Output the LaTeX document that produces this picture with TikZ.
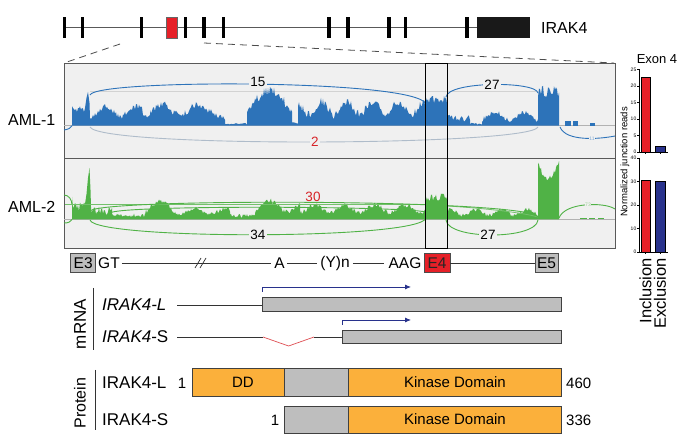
\documentclass[tikz,border=0pt]{standalone}
\usepackage{fontspec}
\setmainfont{Liberation Sans}
\usetikzlibrary{arrows.meta}
\definecolor{covB}{RGB}{45,115,185}
\definecolor{covG}{RGB}{80,178,70}
\definecolor{panelbg}{RGB}{240,240,240}
\definecolor{exred}{RGB}{230,32,40}
\definecolor{navyb}{RGB}{40,50,140}
\definecolor{orng}{RGB}{251,176,59}
\definecolor{boxgray}{RGB}{190,190,190}
\definecolor{labred}{RGB}{215,35,40}
\definecolor{arcgray}{RGB}{175,188,202}
\newcommand\fsz[1]{\fontsize{#1}{#1}\selectfont}
\begin{document}
\begin{tikzpicture}[x=1pt,y=-1pt,
  every node/.style={inner sep=0pt},
  arclab/.style={fill=panelbg,inner sep=1pt,font=\fsz{13.5}},
  arcB/.style={covB,line width=0.9pt},
  arcG/.style={covG,line width=0.9pt},
  dashln/.style={gray!60!black,line width=0.8pt,dash pattern=on 7pt off 5pt},
  exbox/.style={draw=black!70,line width=0.6pt,minimum width=25pt,minimum height=19pt,font=\fsz{15.5}},
  rowtxt/.style={font=\fsz{15.5}},
  seqln/.style={black!80,line width=0.7pt},
  protbox/.style={draw=black!75,line width=0.6pt},
  tssarrow/.style={navyb,line width=0.8pt,-{Latex[length=6pt,width=5pt]}},
  barlab/.style={font=\fsz{5},anchor=east},
  axln/.style={black,line width=0.7pt}]
\useasboundingbox (0,0) rectangle (681,443);
\fill[white] (0,0) rectangle (681,443);

% ---------- gene structure ----------
\draw[gray!70!black,line width=1.4pt] (64,27.7) -- (477,27.7);
\foreach \t in {64.3,82.6,141.5,185.6,204,223.5,329,348,389,405.6,467}
  \fill[black] ({\t-1.8},17) rectangle ({\t+1.8},38);
\filldraw[fill=exred,draw=black!60,line width=0.6pt] (166.5,17) rectangle (177,38);
\fill[black!90] (477,17) rectangle (530,38);
\node[anchor=west,font=\fsz{16}] (irak) at (541,28) {IRAK4};

\coordinate (zl0) at (120,44); \coordinate (zl1) at (64,63);
\coordinate (zr0) at (204,43); \coordinate (zr1) at (614,63);
\draw[dashln] (zl0) -- (zl1);
\draw[dashln] (zr0) -- (zr1);

% ---------- sashimi panel ----------
\filldraw[fill=panelbg,draw=gray!70!black,line width=0.8pt] (64,63) rectangle (615,248);
\draw[gray!70!black,line width=0.8pt] (64,158) -- (615,158);
\draw[gray!35,line width=0.5pt] (90,91) -- (538,91);
\draw[gray!60,line width=0.6pt] (64,125.7) -- (615,125.7);
\draw[gray!60,line width=0.6pt] (64,219.5) -- (615,219.5);

% blue coverage AML-1
\pgfmathsetseed{11}
\fill[covB] (72,125.7)
 -- plot[domain=72:84,samples=13] (\x,{125.7-12-8*rnd})
 -- (85,108) -- (86.5,98) -- (88,92) -- (89.5,103)
 -- plot[domain=90:150,samples=61] (\x,{125.7-6-10*(sin(6*\x))^2-7*rnd})
 -- plot[domain=150:200,samples=51] (\x,{125.7-7-11*(sin(5*\x))^2-7*rnd})
 -- plot[domain=200:225,samples=26] (\x,{125.7-4-(225-\x)*0.5-6*rnd})
 -- plot[domain=225:247,samples=15] (\x,{125.7-1-2*rnd})
 -- plot[domain=247:292,samples=46] (\x,{125.7-8-22*sin(4*(\x-247))-9*rnd})
 -- plot[domain=292:298,samples=5] (\x,{125.7-2-2*rnd})
 -- plot[domain=298:425,samples=128] (\x,{125.7-7-13*(sin(7*\x))^2-8*rnd})
 -- plot[domain=425:447,samples=23] (\x,{125.7-22-8*rnd})
 -- plot[domain=447:470,samples=20] (\x,{125.7-4-7*rnd})
 -- plot[domain=470:482,samples=9] (\x,{125.7-1-2*rnd})
 -- plot[domain=482:538,samples=57] (\x,{125.7-3-8*(sin(6*\x))^2-5*rnd})
 -- plot[domain=538:559,samples=22] (\x,{125.7-27-13*rnd})
 -- (559,125.7) -- cycle;
\fill[covB] (565,121.5) rectangle (571,125.7);
\fill[covB] (573,121.5) rectangle (578,125.7);
\fill[covB] (590,123) rectangle (595,125.7);

% green coverage AML-2
\pgfmathsetseed{23}
\fill[covG] (72,219.5)
 -- (72,197) -- plot[domain=73:84,samples=12] (\x,{219.5-8-9*rnd})
 -- (85,204) -- (86.5,194) -- (88,178) -- (89.5,168) -- (90.5,190) -- (91,207)
 -- plot[domain=91:112,samples=22] (\x,{219.5-5-8*rnd})
 -- plot[domain=112:145,samples=34] (\x,{219.5-2-4*rnd})
 -- plot[domain=145:175,samples=31] (\x,{219.5-4-11*sin(6*(\x-145))-5*rnd})
 -- plot[domain=175:230,samples=56] (\x,{219.5-3-6*(sin(6*\x))^2-4*rnd})
 -- plot[domain=230:255,samples=26] (\x,{219.5-2-4*rnd})
 -- plot[domain=255:300,samples=46] (\x,{219.5-5-11*(sin(5*\x))^2-5*rnd})
 -- plot[domain=300:425,samples=126] (\x,{219.5-4-8*(sin(6*\x))^2-5*rnd})
 -- plot[domain=425:447,samples=23] (\x,{219.5-18-8*rnd})
 -- plot[domain=447:538,samples=92] (\x,{219.5-2-6*(sin(7*\x))^2-4*rnd})
 -- plot[domain=538:559,samples=22] (\x,{219.5-38-0.15*(\x-548)^2-6*rnd})
 -- (559,219.5) -- cycle;
\fill[covG] (580,217.8) rectangle (587,219.5);
\fill[covG] (589,217.8) rectangle (595,219.5);
\fill[covG] (598,217.8) rectangle (604,219.5);

% arcs AML-1
\draw[arcB] (64,130) .. controls (68,129.5) and (71,128) .. (72,125.7);
\draw[arcB] (90,95) .. controls (95,79) and (416,79) .. (426,104);
\node[arclab] (n15) at (258,82) {15};
\draw[arcB] (446,97) .. controls (448,81) and (536,81) .. (538,93);
\node[arclab] (n27a) at (492,84.5) {27};
\draw[arcgray,line width=0.9pt] (90,127) .. controls (100,148) and (530,146) .. (538,127);
\node[arclab,text=labred] (n2) at (315,142) {2};
\draw[arcB] (560,127) .. controls (566,142) and (600,139) .. (615,136);
\node[fill=panelbg,inner sep=0.6pt,font=\fsz{5},text=covB!60] (n11) at (592,138.5) {11};

% arcs AML-2
\draw[arcG] (64,195) .. controls (69,195) and (72,200) .. (72,205);
\draw[arcG] (64,223) .. controls (68,223) and (71,222) .. (72,219.5);
\draw[covG!80,line width=0.8pt] (65,204) -- (425,204);
\draw[covG!80,line width=0.8pt] (447,206) .. controls (480,208) and (520,212) .. (538,217);
\draw[arcG] (110,213) .. controls (118,205) and (400,206) .. (426,212);
\draw[arcG] (90,211) .. controls (100,198) and (530,199) .. (538,217);
\node[font=\fsz{13.5},text=labred] (n30) at (313,197) {30};
\draw[arcG] (90,220) .. controls (95,240) and (420,240) .. (426,218);
\node[arclab] (n34) at (258,235) {34};
\draw[arcG] (446,220) .. controls (448,240) and (536,240) .. (538,220);
\node[arclab] (n27b) at (488,235) {27};
\draw[arcG] (559,218) .. controls (565,202) and (605,202) .. (615,209);
\node[fill=panelbg,inner sep=0.6pt,font=\fsz{5},text=covG!60] (n73) at (588,205) {73};

% exon 4 frame
\draw[black,line width=0.8pt] (425.7,63) rectangle (447,248);

\node[anchor=west,font=\fsz{16}] (aml1) at (8,120) {AML-1};
\node[anchor=west,font=\fsz{16}] (aml2) at (8,207) {AML-2};

% ---------- bar charts ----------
\node[font=\fsz{13}] (ex4) at (657,59) {Exon 4};
% top chart
\filldraw[fill=exred,draw=black,line width=0.6pt] (641,{152-3.3*22.5}) rectangle (650,152);
\filldraw[fill=navyb,draw=black,line width=0.6pt] (655,{152-3.3*1.8}) rectangle (665,152);
\draw[axln] (639,69.5) -- (639,152) -- (668,152);
\foreach \v in {0,5,10,15,20,25}{
  \draw[axln] (639,{152-3.3*\v}) -- (637,{152-3.3*\v});
  \node[barlab] (ta\v) at (636.5,{152-3.3*\v}) {\v};}
\draw[axln] (645.5,152) -- (645.5,154.5);
\draw[axln] (660,152) -- (660,154.5);
% bottom chart
\filldraw[fill=exred,draw=black,line width=0.6pt] (641,{252-2.35*30.5}) rectangle (650,252);
\filldraw[fill=navyb,draw=black,line width=0.6pt] (655,{252-2.35*30}) rectangle (665,252);
\draw[axln] (639,158) -- (639,252) -- (668,252);
\foreach \v in {0,10,20,30,40}{
  \draw[axln] (639,{252-2.35*\v}) -- (637,{252-2.35*\v});
  \node[barlab] (tb\v) at (636.5,{252-2.35*\v}) {\v};}
\draw[axln] (645.5,252) -- (645.5,254.5);
\draw[axln] (660,252) -- (660,254.5);
\node[rotate=90,font=\fsz{9.5}] (ylab) at (625,162) {Normalized junction reads};
\node[rotate=90,anchor=east,font=\fsz{16.5}] (incl) at (645.5,258) {Inclusion};
\node[rotate=90,anchor=east,font=\fsz{16.5}] (excl) at (660,258) {Exclusion};

% ---------- exon / intron row ----------
\node[exbox,fill=boxgray,minimum width=25pt] (e3) at (83.2,263) {E3};
\node[rowtxt,anchor=west] (gt) at (98,263) {GT};
\node[rowtxt] (a) at (279.5,263) {A};
\node[rowtxt] (yn) at (335,263) {(Y)n};
\node[rowtxt] (aag) at (405,263) {AAG};
\node[exbox,fill=exred,text=black!85,minimum width=26pt] (e4) at (437,263) {E4};
\node[exbox,fill=boxgray,minimum width=23pt] (e5) at (546.5,263) {E5};
\draw[seqln] ([xshift=2pt]gt.east) -- ([xshift=-3pt]a.west);
\draw[seqln] ([xshift=2pt]a.east) -- ([xshift=-3pt]yn.west);
\draw[seqln] ([xshift=3pt]yn.east) -- ([xshift=-4pt]aag.west);
\draw[seqln] (e4.east) -- (e5.west);
\draw[seqln] (195,268) -- (201,258);
\draw[seqln] (200,268) -- (206,258);

% ---------- mRNA ----------
\draw[black!80,line width=0.8pt] (93,288) -- (93,350);
\node[rotate=90,font=\fsz{17}] (mrna) at (80,324) {mRNA};
\node[anchor=west,font=\fsz{17}\itshape] (ml) at (102,305) {IRAK4-L};
\node[anchor=west,font=\fsz{17}] (ms) at (102,337) {{\itshape IRAK4}-S};
\filldraw[fill=boxgray,draw=black!75,line width=0.6pt] (262,297) rectangle (561,311);
\filldraw[fill=boxgray,draw=black!75,line width=0.6pt] (342,330) rectangle (561,343.5);
\coordinate (lA) at (177,305); \coordinate (lB) at (262,305);
\draw[seqln] (lA) -- (lB);
\coordinate (sA) at (177,337); \coordinate (sB) at (263,337);
\coordinate (sV) at (288.6,346); \coordinate (sC) at (314,337); \coordinate (sD) at (342,337);
\draw[seqln] (sA) -- (sB);
\draw[labred!80,line width=0.7pt] (sB) -- (sV) -- (sC);
\draw[seqln] (sC) -- (sD);
\coordinate (t1) at (262,292); \coordinate (t1e) at (411,287);
\draw[tssarrow] (t1) -- (262,287) -- (t1e);
\coordinate (t2) at (342,325); \coordinate (t2e) at (411,320);
\draw[tssarrow] (t2) -- (342,320) -- (t2e);

% ---------- protein ----------
\draw[black!80,line width=0.8pt] (95,370) -- (95,430);
\node[rotate=90,font=\fsz{16}] (prot) at (80,403) {Protein};
\node[anchor=west,font=\fsz{17}] (pl) at (102,383) {IRAK4-L};
\node[anchor=west,font=\fsz{17}] (ps) at (102,420) {IRAK4-S};
\filldraw[protbox,fill=orng] (192,368) rectangle (284,396);
\filldraw[protbox,fill=boxgray] (284,368) rectangle (348,396);
\filldraw[protbox,fill=orng] (348,368) rectangle (561,396);
\filldraw[protbox,fill=boxgray] (284,406) rectangle (348,433);
\filldraw[protbox,fill=orng] (348,406) rectangle (561,433);
\node[font=\fsz{15}] (dd) at (243,382) {DD};
\node[font=\fsz{15}] (kd1) at (455,382) {Kinase Domain};
\node[font=\fsz{15}] (kd2) at (455,419.5) {Kinase Domain};
\node[font=\fsz{15}] (one1) at (182,383) {1};
\node[font=\fsz{15}] (one2) at (275,420) {1};
\node[anchor=west,font=\fsz{15}] (n460) at (566,383) {460};
\node[anchor=west,font=\fsz{15}] (n336) at (566,420) {336};
\end{tikzpicture}
\end{document}
